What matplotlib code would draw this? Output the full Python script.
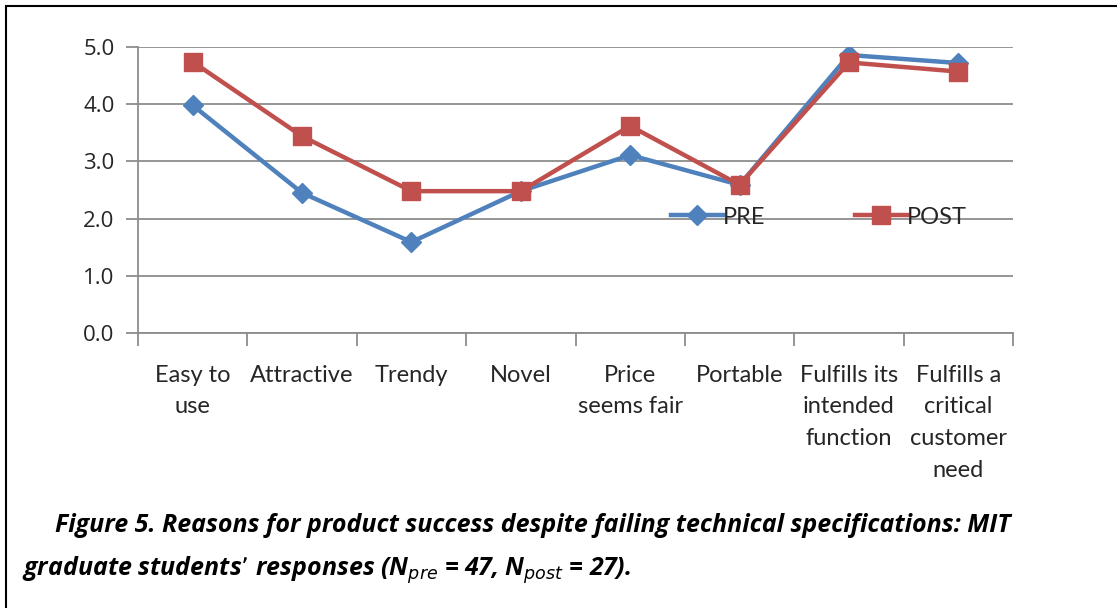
import matplotlib.pyplot as plt
from matplotlib.patches import Rectangle

# Data
categories = ["Easy to\nuse", "Attractive", "Trendy", "Novel", "Price\nseems fair",
              "Portable", "Fulfills its\nintended\nfunction", "Fulfills a\ncritical\ncustomer\nneed"]
pre = [3.98, 2.45, 1.59, 2.48, 3.11, 2.59, 4.86, 4.72]
post = [4.74, 3.44, 2.48, 2.48, 3.62, 2.59, 4.73, 4.57]
yticks = [0.0, 1.0, 2.0, 3.0, 4.0, 5.0]

blue = "#4F81BD"
red = "#C0504D"
lab_font = ["Lato", "DejaVu Sans"]

fig = plt.figure(figsize=(11.17, 6.08), dpi=100)
ax = fig.add_axes([138/1117, 1 - 333/608, (1013-138)/1117, (333-47)/608])

x = list(range(len(categories)))
ax.plot(x, pre, color=blue, lw=3.2, marker="D", ms=10, label="PRE", zorder=3)
ax.plot(x, post, color=red, lw=3.2, marker="s", ms=13, label="POST", zorder=4)

ax.set_xlim(-0.5, len(categories) - 0.5)
ax.set_ylim(0, 5)
ax.set_yticks(yticks)
ax.set_yticklabels([f"{v:.1f}" for v in yticks], fontsize=16, family=["Open Sans", "DejaVu Sans"], color="#262626")
ax.yaxis.grid(True, color="#8c8c8c", lw=1.3)
ax.set_axisbelow(True)

ax.set_xticks([i - 0.5 for i in range(len(categories) + 1)], minor=False)
ax.set_xticklabels([])
ax.set_xticks(x, minor=True)
ax.set_xticklabels(categories, minor=True, fontsize=17, family=lab_font, linespacing=1.62,
                   va="top", color="#262626")
ax.tick_params(axis="x", which="minor", length=0, pad=23)
ax.tick_params(axis="x", which="major", length=9, color="#8c8c8c", width=1.3, direction="out")
ax.tick_params(axis="y", length=9, color="#8c8c8c", width=1.3, pad=8)

for s in ["top", "right"]:
    ax.spines[s].set_visible(False)
ax.spines["left"].set_color("#8c8c8c")
ax.spines["bottom"].set_color("#8c8c8c")
ax.spines["left"].set_linewidth(1.3)
ax.spines["bottom"].set_linewidth(1.3)

leg = ax.legend(loc="center", bbox_to_anchor=(0.778, 0.405), ncol=2, frameon=False,
                prop={"family": lab_font, "size": 17},
                handlelength=2.2, handletextpad=0.0, columnspacing=3.8)
for t in leg.get_texts():
    t.set_color("#262626")

# frame around figure
fig.patches.append(Rectangle((6/1117, -0.1), 1.2, 1 - 6/608 + 0.1, transform=fig.transFigure,
                             fill=False, edgecolor="black", lw=1.5))

cap_font = ["Open Sans", "DejaVu Sans"]
fig.text(55/1117, 1 - 525/608, "Figure 5. Reasons for product success despite failing technical specifications: MIT",
         fontsize=18, fontweight="bold", style="italic", family=cap_font, va="center")
fig.text(22/1117, 1 - 570/608,
         r"graduate students’ responses (N$_{\mathit{pre}}$ = 47, N$_{\mathit{post}}$ = 27).",
         fontsize=18, fontweight="bold", style="italic", family=cap_font, va="center")

fig.savefig("out.png", dpi=100)
